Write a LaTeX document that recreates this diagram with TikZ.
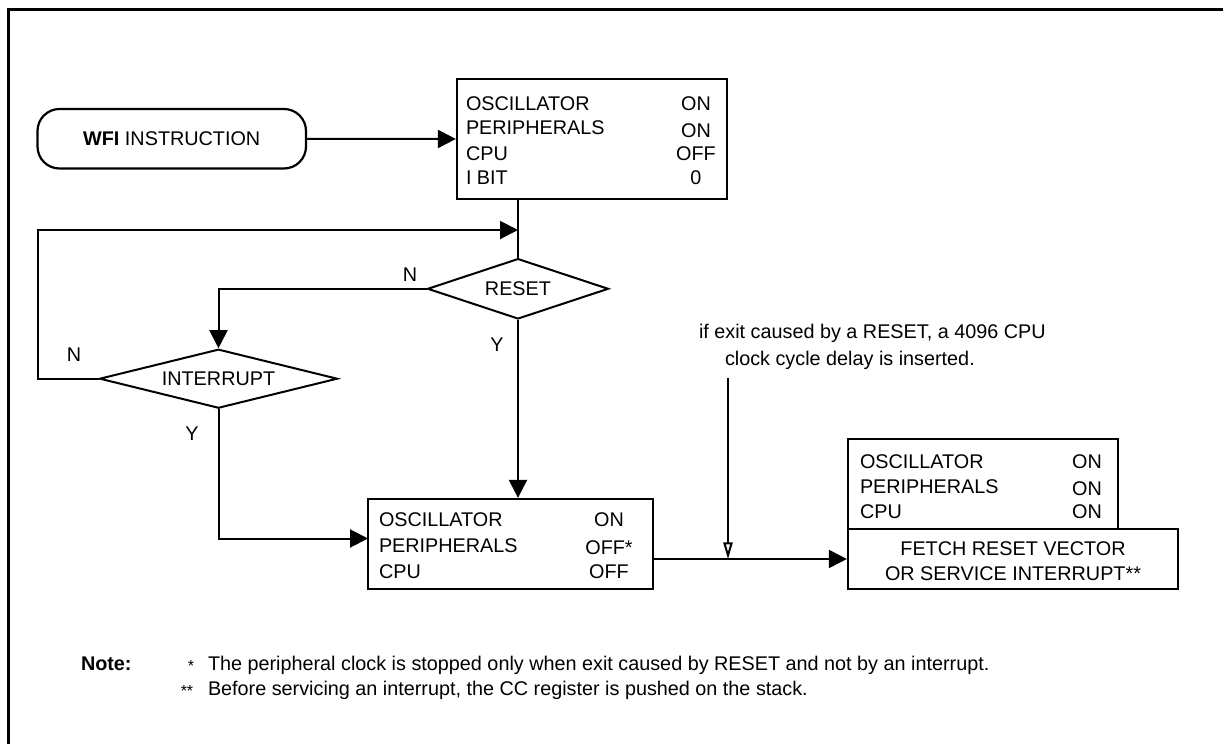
\documentclass[tikz,border=0pt]{standalone}
\usepackage{fontspec}
\setmainfont{Liberation Sans}
\usetikzlibrary{arrows.meta,shapes.geometric,fit}
\begin{document}
\begin{tikzpicture}[x=0.5pt,y=-0.5pt,
  line width=1pt,
  font=\fontsize{9.9}{12.5}\selectfont,
  box/.style={draw, line width=1.1pt, inner sep=0pt},
  dia/.style={draw, diamond, aspect=4, inner sep=0pt, line width=1pt},
  txt/.style={inner sep=0pt},
  arr/.style={-{Triangle[length=9pt,width=9pt]}},
  openarr/.style={-{Triangle[open,length=8.3pt,width=4.6pt,line width=1pt]}}
]
\useasboundingbox (0,0) rectangle (1223,744);
% frame
\draw[line width=1.5pt] (8.5,744) -- (8.5,9.5) -- (1223,9.5);

% start terminal
\node[box, rounded corners=11pt, fit={(37.5,109) (306,168.5)}] (wfi) {};
\node[txt] (wfitext) at (wfi.center) {\textbf{WFI} INSTRUCTION};

% box 1
\node[box, fit={(457,79) (727,199)}] (b1) {};
\node[txt, anchor=base west] (b1l) at (465,110) {\begin{tabular}[t]{@{}l@{}}OSCILLATOR\\PERIPHERALS\\CPU\\I BIT\end{tabular}};
\node[txt, anchor=base] (b1v) at (696,110) {\begin{tabular}[t]{@{}c@{}}ON\\\raisebox{-1.2pt}{ON}\\OFF\\0\end{tabular}};

% decisions
\node[dia, minimum width=90.5pt, minimum height=30.2pt] (reset) at (518,288.8) {RESET};
\node[dia, minimum width=119pt, minimum height=29.5pt] (intr) at (218.5,378.7) {INTERRUPT};

% box 2
\node[box, fit={(368,499) (653,589)}] (b2) {};
\node[txt, anchor=base west, font=\fontsize{9.9}{13}\selectfont] (b2l) at (378,526.5) {\begin{tabular}[t]{@{}l@{}}OSCILLATOR\\PERIPHERALS\\CPU\end{tabular}};
\node[txt, anchor=base, font=\fontsize{9.9}{13}\selectfont] (b2v) at (609,526.5) {\begin{tabular}[t]{@{}c@{}}ON\\\raisebox{-1.2pt}{OFF*}\\OFF\end{tabular}};

% box 3
\node[box, fit={(848,439) (1118,529)}] (b3a) {};
\node[txt, anchor=base west] (b3l) at (859,468) {\begin{tabular}[t]{@{}l@{}}OSCILLATOR\\PERIPHERALS\\CPU\end{tabular}};
\node[txt, anchor=base] (b3v) at (1087,468) {\begin{tabular}[t]{@{}c@{}}ON\\\raisebox{-1.2pt}{ON}\\ON\end{tabular}};
\node[box, fit={(848,529) (1178,589)}] (b3b) {};
\node[txt, anchor=base, font=\fontsize{9.9}{12.5}\selectfont] (b3t) at (1013,555) {\begin{tabular}[t]{@{}c@{}}FETCH RESET VECTOR\\OR SERVICE INTERRUPT**\end{tabular}};

% labels
\node[txt] (nreset) at (410,274.5) {N};
\node[txt] (yreset) at (497,345) {Y};
\node[txt] (nintr) at (74,355) {N};
\node[txt] (yintr) at (192,434) {Y};

% annotation
\node[txt, anchor=base west] (ann1) at (698,338.5) {if exit caused by a RESET, a 4096 CPU};
\node[txt, anchor=base west] (ann2) at (724,365) {clock cycle delay is inserted.};
\coordinate (anntop) at (728,378);

% connectors
\coordinate (loopin) at (518,230);
\coordinate (loopleft) at (37.5,230);
\draw[arr] (wfi.east) -- (b1.west);
\draw (b1.south -| reset.north) -- (reset.north);
\draw[arr] (intr.west) -| (loopleft) -- (loopin);
\draw[arr] (reset.west) -| (intr.north);
\draw[arr] (reset.south) -- (reset.south |- b2.north);
\coordinate (b2in) at (368,538.5);
\draw[arr] (intr.south) |- (b2in);
\draw[arr] (b2.east |- b3b.west) -- (b3b.west);
\draw[openarr] (anntop) -- (anntop |- b3b.west);

% note
\node[txt, anchor=base west] (note) at (80,670) {\textbf{Note:}};
\node[txt, anchor=base] (st1) at (191,671) {\fontsize{8}{8}\selectfont *};
\node[txt, anchor=base west] (n1) at (207,670) {The peripheral clock is stopped only when exit caused by RESET and not by an interrupt.};
\node[txt, anchor=base] (st2) at (187,696) {\fontsize{8}{8}\selectfont **};
\node[txt, anchor=base west] (n2) at (207,695) {Before servicing an interrupt, the CC register is pushed on the stack.};
\end{tikzpicture}
\end{document}
